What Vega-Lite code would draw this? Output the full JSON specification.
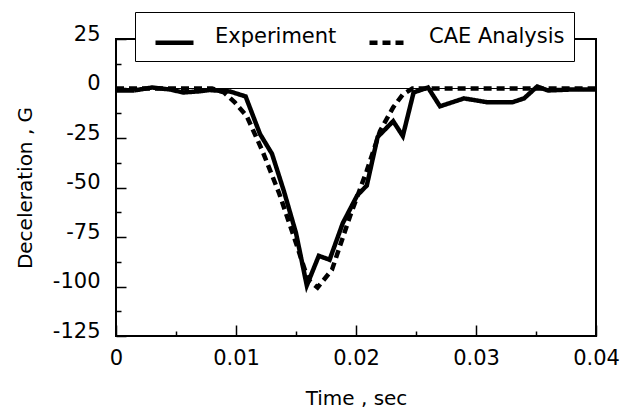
{
  "$schema": "https://vega.github.io/schema/vega-lite/v6.json",
  "width": 480,
  "height": 297,
  "autosize": {"type": "none"},
  "padding": {"left": 116, "top": 39, "right": 37, "bottom": 74},
  "background": "white",
  "config": {
    "view": {"stroke": "black", "strokeWidth": 2},
    "font": "DejaVu Sans",
    "axis": {
      "domain": false,
      "ticks": true,
      "tickColor": "black",
      "tickWidth": 1.5,
      "tickOpacity": 1,
      "labelColor": "black",
      "labelFontSize": 21,
      "labelFont": "DejaVu Sans",
      "titleFont": "DejaVu Sans",
      "titleFontSize": 20,
      "titleFontWeight": "normal",
      "titleColor": "black",
      "labelOverlap": false,
      "labelFlush": false,
      "labelBound": false
    }
  },
  "data": {
    "values": [
      {"t": 0, "g": -1, "series": "Experiment"},
      {"t": 0.0015, "g": -1, "series": "Experiment"},
      {"t": 0.003, "g": 0.5, "series": "Experiment"},
      {"t": 0.0045, "g": -0.5, "series": "Experiment"},
      {"t": 0.0056, "g": -2, "series": "Experiment"},
      {"t": 0.0068, "g": -1.5, "series": "Experiment"},
      {"t": 0.0078, "g": -0.8, "series": "Experiment"},
      {"t": 0.0095, "g": -1.5, "series": "Experiment"},
      {"t": 0.0108, "g": -4, "series": "Experiment"},
      {"t": 0.012, "g": -23, "series": "Experiment"},
      {"t": 0.013, "g": -33, "series": "Experiment"},
      {"t": 0.014, "g": -52, "series": "Experiment"},
      {"t": 0.015, "g": -73, "series": "Experiment"},
      {"t": 0.0159, "g": -99.5, "series": "Experiment"},
      {"t": 0.0169, "g": -84.5, "series": "Experiment"},
      {"t": 0.0178, "g": -86.5, "series": "Experiment"},
      {"t": 0.0189, "g": -68, "series": "Experiment"},
      {"t": 0.0201, "g": -54, "series": "Experiment"},
      {"t": 0.0209, "g": -49, "series": "Experiment"},
      {"t": 0.0218, "g": -24.5, "series": "Experiment"},
      {"t": 0.0231, "g": -16.5, "series": "Experiment"},
      {"t": 0.0239, "g": -24, "series": "Experiment"},
      {"t": 0.0248, "g": -2, "series": "Experiment"},
      {"t": 0.026, "g": 0.5, "series": "Experiment"},
      {"t": 0.027, "g": -9, "series": "Experiment"},
      {"t": 0.029, "g": -5, "series": "Experiment"},
      {"t": 0.031, "g": -7, "series": "Experiment"},
      {"t": 0.033, "g": -7, "series": "Experiment"},
      {"t": 0.034, "g": -5, "series": "Experiment"},
      {"t": 0.0351, "g": 1, "series": "Experiment"},
      {"t": 0.036, "g": -1, "series": "Experiment"},
      {"t": 0.038, "g": -0.5, "series": "Experiment"},
      {"t": 0.04, "g": -0.5, "series": "Experiment"},
      {"t": 0, "g": 0, "series": "CAE Analysis"},
      {"t": 0.008, "g": 0, "series": "CAE Analysis"},
      {"t": 0.009, "g": -2, "series": "CAE Analysis"},
      {"t": 0.0099, "g": -7, "series": "CAE Analysis"},
      {"t": 0.0109, "g": -14, "series": "CAE Analysis"},
      {"t": 0.0122, "g": -31.5, "series": "CAE Analysis"},
      {"t": 0.0136, "g": -53, "series": "CAE Analysis"},
      {"t": 0.015, "g": -78, "series": "CAE Analysis"},
      {"t": 0.016, "g": -96.5, "series": "CAE Analysis"},
      {"t": 0.0168, "g": -100.5, "series": "CAE Analysis"},
      {"t": 0.018, "g": -91.5, "series": "CAE Analysis"},
      {"t": 0.0195, "g": -64.5, "series": "CAE Analysis"},
      {"t": 0.0209, "g": -41.5, "series": "CAE Analysis"},
      {"t": 0.022, "g": -21.5, "series": "CAE Analysis"},
      {"t": 0.0231, "g": -9.5, "series": "CAE Analysis"},
      {"t": 0.0239, "g": -3, "series": "CAE Analysis"},
      {"t": 0.0247, "g": 0, "series": "CAE Analysis"},
      {"t": 0.04, "g": 0, "series": "CAE Analysis"}
    ]
  },
  "mark": {"type": "line", "color": "black", "strokeWidth": 4.5, "clip": true},
  "encoding": {
    "x": {
      "field": "t",
      "type": "quantitative",
      "scale": {"domain": [0, 0.04], "nice": false, "zero": false},
      "axis": {
        "title": "Time ,  sec",
        "grid": false,
        "values": [0, 0.005, 0.01, 0.015, 0.02, 0.025, 0.03, 0.035, 0.04],
        "labelExpr": "abs(datum.value*100 - round(datum.value*100)) < 1e-6 ? format(datum.value, '~g') : ''",
        "tickSize": {"condition": {"test": "abs(datum.value*100 - round(datum.value*100)) < 1e-6", "value": -11}, "value": -5},
        "labelPadding": 22,
        "titlePadding": 14
      }
    },
    "y": {
      "field": "g",
      "type": "quantitative",
      "scale": {"domain": [-125, 25], "nice": false, "zero": false},
      "axis": {
        "title": "Deceleration ,  G",
        "grid": true,
        "gridColor": "black",
        "gridWidth": 1,
        "gridOpacity": {"condition": {"test": "datum.value == 0", "value": 1}, "value": 0},
        "values": [-125, -112.5, -100, -87.5, -75, -62.5, -50, -37.5, -25, -12.5, 0, 12.5, 25],
        "labelExpr": "datum.value % 25 == 0 ? '' + datum.value : ''",
        "tickSize": {"condition": {"test": "datum.value % 25 == 0", "value": -10}, "value": -5},
        "labelOffset": -5,
        "labelPadding": 26,
        "titlePadding": 17
      }
    },
    "strokeDash": {
      "field": "series",
      "type": "nominal",
      "scale": {"domain": ["Experiment", "CAE Analysis"], "range": [[1, 0], [8, 5]]},
      "legend": {
        "title": null,
        "orient": "none",
        "legendX": 19,
        "legendY": -27,
        "direction": "horizontal",
        "symbolType": "stroke",
        "symbolSize": 1444,
        "symbolStrokeWidth": 4.5,
        "symbolStrokeColor": "black",
        "symbolOffset": 9,
        "labelFontSize": 21,
        "labelFont": "DejaVu Sans",
        "labelColor": "black",
        "labelBaseline": "alphabetic",
        "labelOffset": 19,
        "labelExpr": "datum.label == 'CAE Analysis' ? datum.label + '\u00a0\u00a0' : datum.label",
        "columnPadding": 21,
        "padding": 9,
        "strokeColor": "black",
        "fillColor": "white"
      }
    }
  }
}
